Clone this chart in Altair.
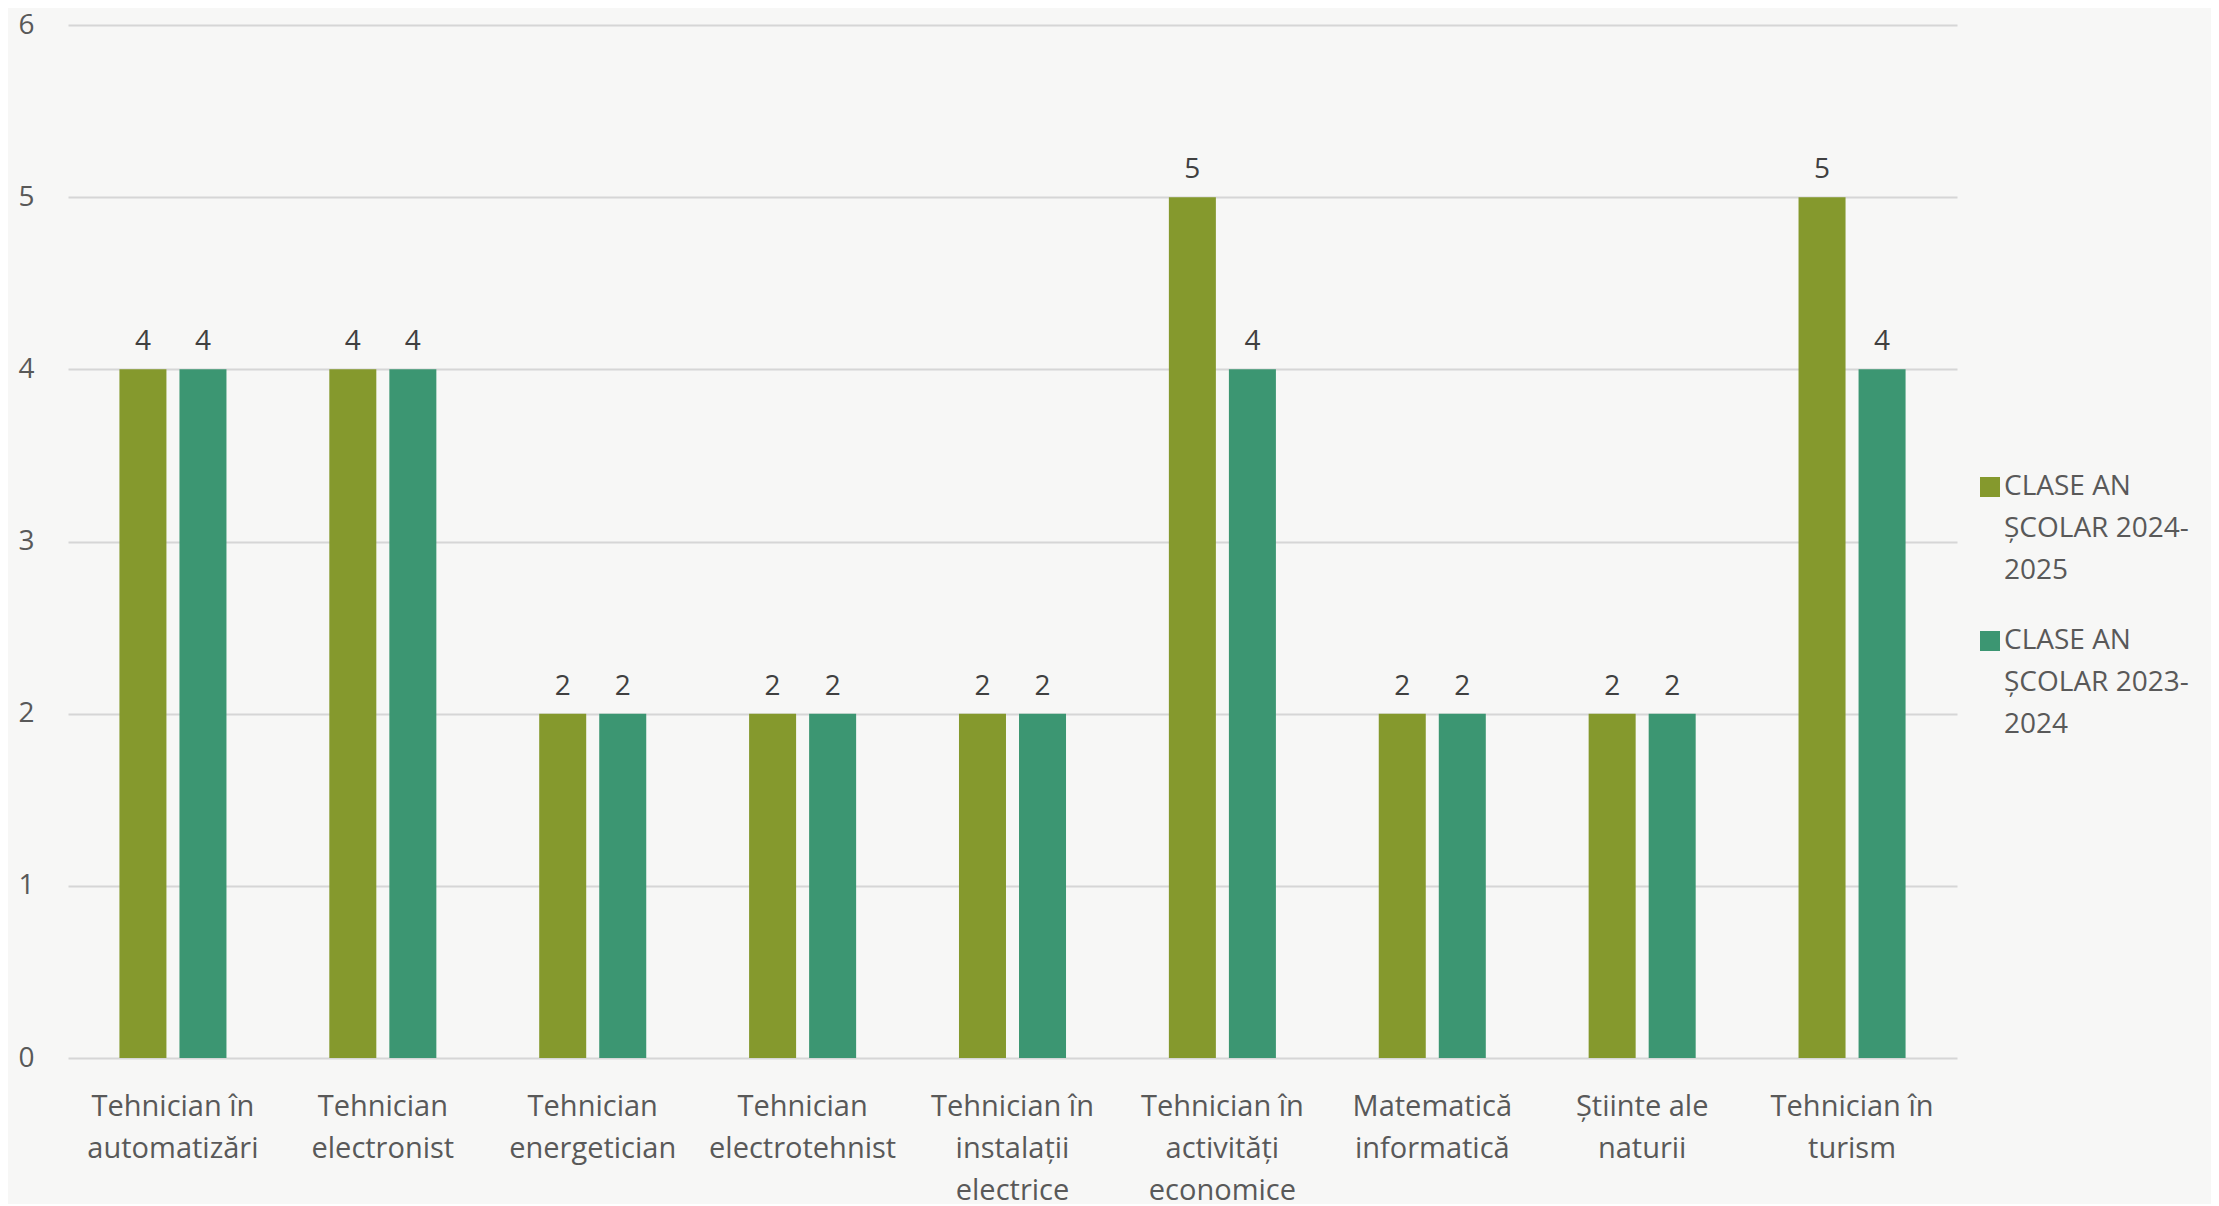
import altair as alt
import pandas as pd

categories = [
    "Tehnician în\nautomatizări",
    "Tehnician\nelectronist",
    "Tehnician\nenergetician",
    "Tehnician\nelectrotehnist",
    "Tehnician în\ninstalații\nelectrice",
    "Tehnician în\nactivități\neconomice",
    "Matematică\ninformatică",
    "Știinte ale\nnaturii",
    "Tehnician în\nturism",
]
series = ["CLASE AN ȘCOLAR 2024-2025", "CLASE AN ȘCOLAR 2023-2024"]
values_2024_2025 = [4, 4, 2, 2, 2, 5, 2, 2, 5]
values_2023_2024 = [4, 4, 2, 2, 2, 4, 2, 2, 4]
colors = ["#85992D", "#3C9672"]
y_ticks = [0, 1, 2, 3, 4, 5, 6]

rows = []
for c, a, b in zip(categories, values_2024_2025, values_2023_2024):
    rows.append({"cat": c, "series": series[0], "val": a})
    rows.append({"cat": c, "series": series[1], "val": b})
df = pd.DataFrame(rows)

FONT = "Open Sans"
TXT = "#595959"

x_enc = alt.X(
    "cat:N",
    sort=categories,
    scale=alt.Scale(paddingInner=0.49, paddingOuter=0.245),
    axis=alt.Axis(
        title=None,
        labelAngle=0,
        labelExpr="split(datum.label, '\\n')",
        labelFont=FONT,
        labelFontSize=29,
        labelColor=TXT,
        labelLineHeight=42,
        labelBaseline="top",
        labelPadding=34,
        labelLimit=400,
        ticks=False,
        domain=False,
        grid=False,
    ),
)
xo_enc = alt.XOffset("series:N", sort=series, scale=alt.Scale(paddingInner=0.217, paddingOuter=0))
y_enc = alt.Y(
    "val:Q",
    scale=alt.Scale(domain=[0, 6], nice=False),
    axis=alt.Axis(
        title=None,
        values=y_ticks,
        format="d",
        labelFont=FONT,
        labelFontSize=28,
        labelColor=TXT,
        labelPadding=34,
        ticks=False,
        domain=False,
        grid=True,
        gridColor="#D6D6D6",
        gridWidth=2,
    ),
)

bars = alt.Chart(df).mark_bar().encode(
    x=x_enc,
    xOffset=xo_enc,
    y=y_enc,
    color=alt.Color(
        "series:N",
        sort=series,
        scale=alt.Scale(domain=series, range=colors),
        legend=alt.Legend(
            title=None,
            orient="none",
            legendX=1908,
            legendY=448,
            symbolType="square",
            symbolSize=400,
            symbolStrokeWidth=0,
            labelFont=FONT,
            labelFontSize=28,
            labelColor=TXT,
            labelBaseline="middle",
            labelOffset=0,
            labelLimit=400,
            rowPadding=42,
            padding=0,
            labelExpr="[slice(datum.label,0,8), slice(datum.label,9,21), slice(datum.label,21)]",
        ),
    ),
)

labels = alt.Chart(df).mark_text(
    font=FONT, fontSize=28, color="#404040", baseline="alphabetic", dy=-19
).encode(
    x=x_enc,
    xOffset=xo_enc,
    y=y_enc,
    text="val:Q",
)

chart = (
    alt.layer(bars, labels)
    .properties(
        width=1889,
        height=1033,
        padding={"left": 60, "top": 17, "right": 254, "bottom": 146},
        autosize=alt.AutoSizeParams(type="none"),
        background="#F7F7F6",
    )
    .configure(style={"guide-label": {"lineHeight": 42}, "cell": {"stroke": "transparent", "strokeWidth": 0}})
    .configure_view(stroke="transparent", strokeWidth=0)
    .configure_axis(domain=False, ticks=False)
)

chart.save("out.html", embed_options={"renderer": "svg", "actions": False})
